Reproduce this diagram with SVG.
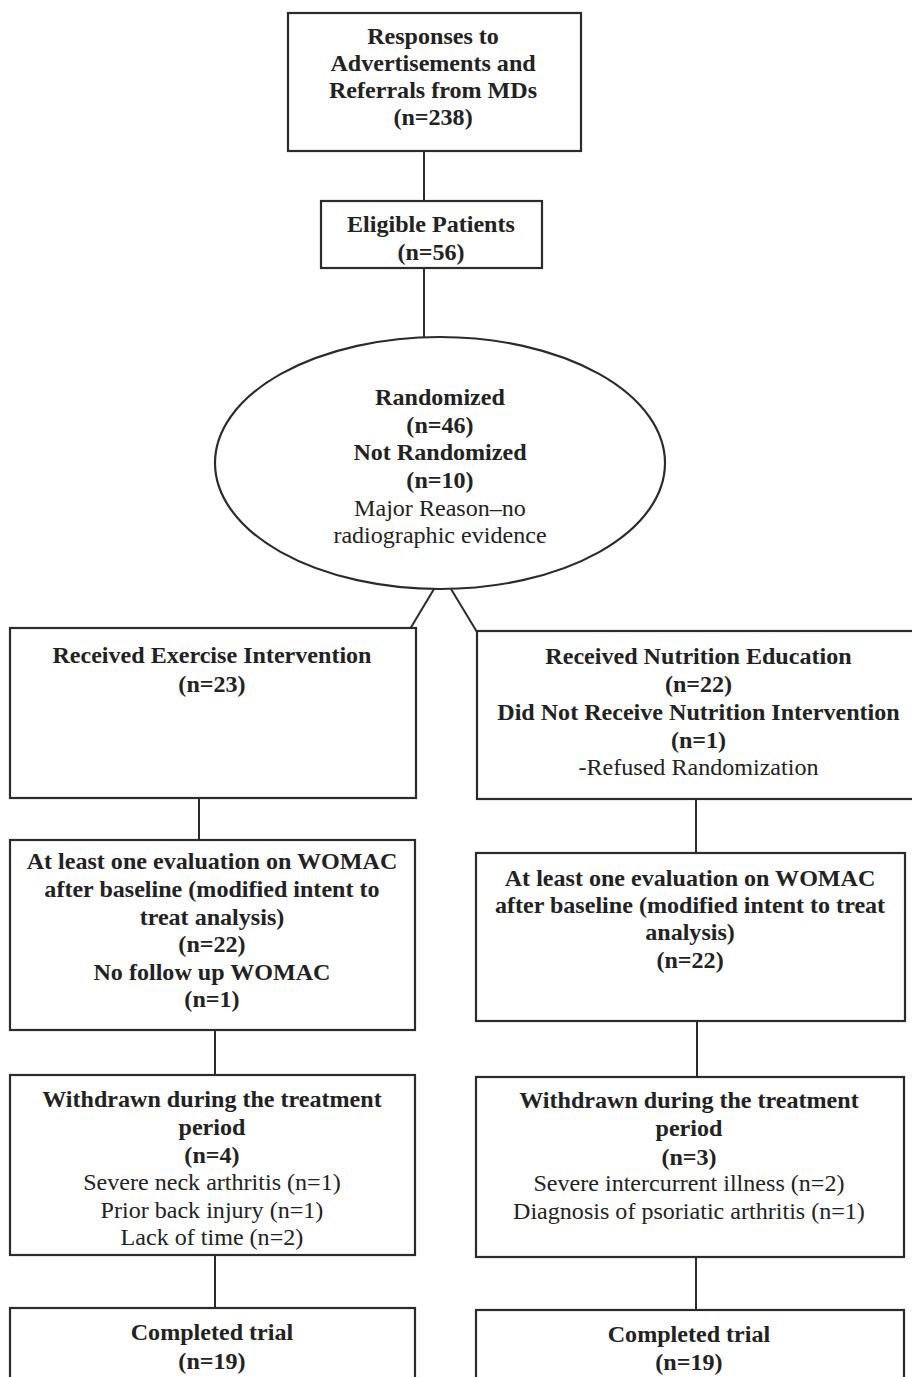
<svg xmlns="http://www.w3.org/2000/svg" width="912" height="1377" viewBox="0 0 912 1377">
<style>
.bx{fill:#fff;stroke:#2b2b2b;stroke-width:2.2}
.ln{stroke:#2b2b2b;stroke-width:2;fill:none}
text{font-family:"Liberation Serif","Times New Roman",serif;font-size:22.5px;fill:#222;text-anchor:middle}
.b{font-weight:bold}
</style>
<rect width="912" height="1377" fill="#fff"/>
<g id="connectors">
<line class="ln" x1="424" y1="151" x2="424" y2="201"/>
<line class="ln" x1="424" y1="268" x2="424" y2="338"/>
<line class="ln" x1="434" y1="589" x2="410" y2="629"/>
<line class="ln" x1="451" y1="589" x2="477" y2="632"/>
<line class="ln" x1="199" y1="798" x2="199" y2="841"/>
<line class="ln" x1="696" y1="799" x2="696" y2="854"/>
<line class="ln" x1="215" y1="1030" x2="215" y2="1076"/>
<line class="ln" x1="697" y1="1021" x2="697" y2="1078"/>
<line class="ln" x1="215" y1="1255" x2="215" y2="1309"/>
<line class="ln" x1="696" y1="1257" x2="696" y2="1311"/>
</g>
<g id="responses">
<rect class="bx" x="288" y="13" width="293" height="138"/>
<g transform="scale(1.07 1)">
<text class="b" x="404.7" y="44">Responses to</text>
<text class="b" x="404.7" y="71">Advertisements and</text>
<text class="b" x="404.7" y="98">Referrals from MDs</text>
<text class="b" x="404.7" y="125">(n=238)</text>
</g>
</g>
<g id="eligible">
<rect class="bx" x="321" y="201" width="221" height="67"/>
<g transform="scale(1.07 1)">
<text class="b" x="402.8" y="232">Eligible Patients</text>
<text class="b" x="402.8" y="260">(n=56)</text>
</g>
</g>
<g id="randomized">
<ellipse class="bx" cx="440" cy="463" rx="225" ry="126"/>
<g transform="scale(1.07 1)">
<text class="b" x="411.2" y="405">Randomized</text>
<text class="b" x="411.2" y="433">(n=46)</text>
<text class="b" x="411.2" y="460">Not Randomized</text>
<text class="b" x="411.2" y="488">(n=10)</text>
<text x="411.2" y="516">Major Reason–no</text>
<text x="411.2" y="543">radiographic evidence</text>
</g>
</g>
<g id="exercise">
<rect class="bx" x="10" y="628" width="406" height="170"/>
<g transform="scale(1.07 1)">
<text class="b" x="198.1" y="663">Received Exercise Intervention</text>
<text class="b" x="198.1" y="692">(n=23)</text>
</g>
</g>
<g id="nutrition">
<rect class="bx" x="477" y="631" width="445" height="168"/>
<g transform="scale(1.07 1)">
<text class="b" x="652.8" y="664">Received Nutrition Education</text>
<text class="b" x="652.8" y="692">(n=22)</text>
<text class="b" x="652.8" y="720">Did Not Receive Nutrition Intervention</text>
<text class="b" x="652.8" y="748">(n=1)</text>
<text x="652.8" y="775">-Refused Randomization</text>
</g>
</g>
<g id="womac-left">
<rect class="bx" x="10" y="840" width="405" height="190"/>
<g transform="scale(1.07 1)">
<text class="b" x="198.1" y="869">At least one evaluation on WOMAC</text>
<text class="b" x="198.1" y="897">after baseline (modified intent to</text>
<text class="b" x="198.1" y="925">treat analysis)</text>
<text class="b" x="198.1" y="952">(n=22)</text>
<text class="b" x="198.1" y="980">No follow up WOMAC</text>
<text class="b" x="198.1" y="1007">(n=1)</text>
</g>
</g>
<g id="womac-right">
<rect class="bx" x="476" y="853" width="429" height="168"/>
<g transform="scale(1.07 1)">
<text class="b" x="644.9" y="886">At least one evaluation on WOMAC</text>
<text class="b" x="644.9" y="913">after baseline (modified intent to treat</text>
<text class="b" x="644.9" y="940">analysis)</text>
<text class="b" x="644.9" y="968">(n=22)</text>
</g>
</g>
<g id="withdrawn-left">
<rect class="bx" x="10" y="1075" width="405" height="180"/>
<g transform="scale(1.07 1)">
<text class="b" x="198.1" y="1107">Withdrawn during the treatment</text>
<text class="b" x="198.1" y="1135">period</text>
<text class="b" x="198.1" y="1163">(n=4)</text>
<text x="198.1" y="1190">Severe neck arthritis (n=1)</text>
<text x="198.1" y="1218">Prior back injury (n=1)</text>
<text x="198.1" y="1245">Lack of time (n=2)</text>
</g>
</g>
<g id="withdrawn-right">
<rect class="bx" x="476" y="1077" width="428" height="180"/>
<g transform="scale(1.07 1)">
<text class="b" x="643.9" y="1108">Withdrawn during the treatment</text>
<text class="b" x="643.9" y="1136">period</text>
<text class="b" x="643.9" y="1165">(n=3)</text>
<text x="643.9" y="1191">Severe intercurrent illness (n=2)</text>
<text x="643.9" y="1219">Diagnosis of psoriatic arthritis (n=1)</text>
</g>
</g>
<g id="completed-left">
<rect class="bx" x="10" y="1308" width="405" height="100"/>
<g transform="scale(1.07 1)">
<text class="b" x="198.1" y="1340">Completed trial</text>
<text class="b" x="198.1" y="1369">(n=19)</text>
</g>
</g>
<g id="completed-right">
<rect class="bx" x="476" y="1310" width="428" height="100"/>
<g transform="scale(1.07 1)">
<text class="b" x="643.9" y="1342">Completed trial</text>
<text class="b" x="643.9" y="1370">(n=19)</text>
</g>
</g>
</svg>
